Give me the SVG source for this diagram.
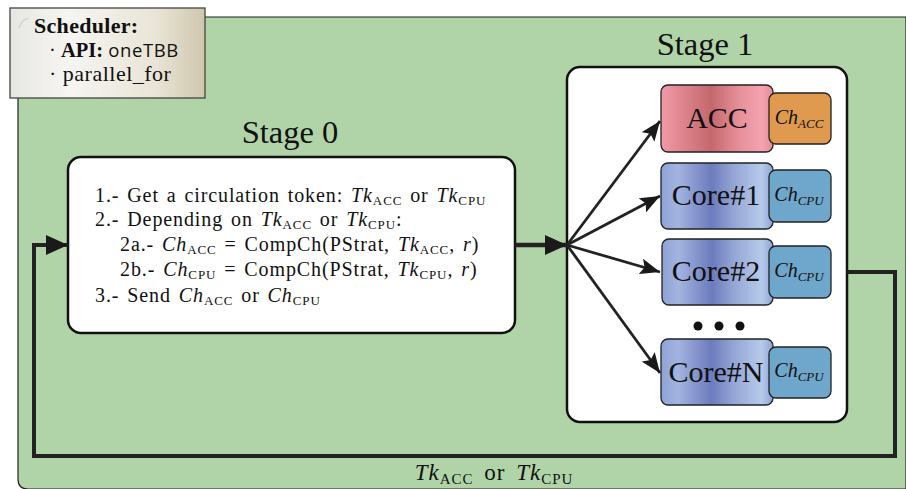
<svg xmlns="http://www.w3.org/2000/svg" width="906" height="489" viewBox="0 0 906 489">
<style>
.serif{font-family:"Liberation Serif","DejaVu Serif",serif;fill:#111}
.it{font-style:italic}
.sub{font-size:13px}
.sst{font-size:20px;letter-spacing:0.9px;word-spacing:2px}
.box{fill:#fff;stroke:#111;stroke-width:2.5}
.node{stroke:#222;stroke-width:1.3}
.conn{fill:none;stroke:#222}
.lbl{font-size:30px}
.ch{font-size:20px;font-style:italic}
.chs{font-size:13px}
</style>
<defs>
<linearGradient id="gAcc" x1="0" x2="1" y1="0" y2="0">
<stop offset="0" stop-color="#f19aa7"/><stop offset="0.45" stop-color="#c4686d"/><stop offset="0.7" stop-color="#e7909a"/><stop offset="0.9" stop-color="#f4a3b0"/><stop offset="1" stop-color="#e58c98"/>
</linearGradient>
<linearGradient id="gCore" x1="0" x2="1" y1="0" y2="0">
<stop offset="0" stop-color="#8ea2d6"/><stop offset="0.15" stop-color="#a3b4e0"/><stop offset="0.45" stop-color="#6c7bbd"/><stop offset="0.65" stop-color="#95a6d6"/><stop offset="0.9" stop-color="#b6caea"/><stop offset="1" stop-color="#8ea2d6"/>
</linearGradient>
<linearGradient id="gSch" x1="0" x2="1" y1="0" y2="0">
<stop offset="0" stop-color="#e6e6e2"/><stop offset="0.3" stop-color="#f6f5f2"/><stop offset="0.75" stop-color="#e9e4d6"/><stop offset="1" stop-color="#cfc6ad"/>
</linearGradient>
<marker id="aBig" markerUnits="userSpaceOnUse" markerWidth="24" markerHeight="20" refX="22" refY="10" orient="auto">
<path d="M0,0 L22,10 L0,20 Z" fill="#1a1a1a"/>
</marker>
<marker id="aSm" markerUnits="userSpaceOnUse" markerWidth="22" markerHeight="16" refX="20" refY="8" orient="auto">
<path d="M0,0 L20,8 L0,16 L4,8 Z" fill="#1a1a1a"/>
</marker>
</defs>

<g id="background">
<path d="M18,17 H906 V489 H28 Q18,489 18,479 Z" fill="#b0d3a8" stroke="#222" stroke-width="1.2"/>
</g>

<g id="scheduler">
<rect x="10" y="8" width="195" height="90" fill="url(#gSch)" stroke="#444" stroke-width="1.3"/>
<path d="M19,28 Q21,20 29,18" fill="none" stroke="#ccc" stroke-width="1.2"/>
<text class="serif" x="34" y="33" font-size="22" font-weight="bold" letter-spacing="0.3">Scheduler:</text>
<text class="serif" x="49" y="57" font-size="20.5">· <tspan font-weight="bold">API:</tspan> <tspan font-family="'Open Sans','DejaVu Sans',sans-serif" font-size="18.5" letter-spacing="0.6">oneTBB</tspan></text>
<text class="serif" x="49" y="81" font-size="22" letter-spacing="0.5">· parallel_for</text>
</g>

<g id="stage0">
<text class="serif" x="290" y="143" font-size="32.5" text-anchor="middle">Stage 0</text>
<rect class="box" x="68" y="157" width="447" height="176" rx="13"/>
<text class="serif sst" x="95" y="202">1.- Get a circulation token: <tspan class="it">Tk</tspan><tspan class="sub" dy="3">ACC</tspan><tspan dy="-3"> or </tspan><tspan class="it">Tk</tspan><tspan class="sub" dy="3">CPU</tspan></text>
<text class="serif sst" x="95" y="226">2.- Depending on <tspan class="it">Tk</tspan><tspan class="sub" dy="3">ACC</tspan><tspan dy="-3"> or </tspan><tspan class="it">Tk</tspan><tspan class="sub" dy="3">CPU</tspan><tspan dy="-3">:</tspan></text>
<text class="serif sst" x="120" y="251">2a.- <tspan class="it">Ch</tspan><tspan class="sub" dy="3">ACC</tspan><tspan dy="-3"> = CompCh(PStrat, </tspan><tspan class="it">Tk</tspan><tspan class="sub" dy="3">ACC</tspan><tspan dy="-3">, </tspan><tspan class="it">r</tspan>)</text>
<text class="serif sst" x="120" y="276">2b.- <tspan class="it">Ch</tspan><tspan class="sub" dy="3">CPU</tspan><tspan dy="-3"> = CompCh(PStrat, </tspan><tspan class="it">Tk</tspan><tspan class="sub" dy="3">CPU</tspan><tspan dy="-3">, </tspan><tspan class="it">r</tspan>)</text>
<text class="serif sst" x="95" y="302">3.- Send <tspan class="it">Ch</tspan><tspan class="sub" dy="3">ACC</tspan><tspan dy="-3"> or </tspan><tspan class="it">Ch</tspan><tspan class="sub" dy="3">CPU</tspan></text>
</g>

<g id="stage1">
<text class="serif" x="705" y="55" font-size="32.5" text-anchor="middle">Stage 1</text>
<rect class="box" x="567" y="67" width="280" height="355" rx="13"/>
</g>

<g id="acc">
<rect class="node" x="661" y="85" width="112" height="67" rx="7" fill="url(#gAcc)"/>
<text class="serif lbl" x="717" y="128" text-anchor="middle">ACC</text>
<rect class="node" x="769" y="93" width="62" height="51" rx="7" fill="#e09a50"/>
<text class="serif ch" x="799" y="124" text-anchor="middle">Ch<tspan class="chs" dy="4">ACC</tspan></text>
</g>

<g id="core1">
<rect class="node" x="661" y="163" width="112" height="66" rx="7" fill="url(#gCore)"/>
<text class="serif lbl" x="716" y="205" text-anchor="middle">Core#1</text>
<rect class="node" x="769" y="170" width="62" height="52" rx="7" fill="#6fa6cc"/>
<text class="serif ch" x="799" y="201" text-anchor="middle">Ch<tspan class="chs" dy="4">CPU</tspan></text>
</g>

<g id="core2">
<rect class="node" x="662" y="239" width="111" height="66" rx="7" fill="url(#gCore)"/>
<text class="serif lbl" x="716" y="281" text-anchor="middle">Core#2</text>
<rect class="node" x="769" y="246" width="62" height="52" rx="7" fill="#6fa6cc"/>
<text class="serif ch" x="799" y="277" text-anchor="middle">Ch<tspan class="chs" dy="4">CPU</tspan></text>
</g>

<g id="dots">
<circle cx="698" cy="326" r="4.5" fill="#111"/>
<circle cx="719" cy="326" r="4.5" fill="#111"/>
<circle cx="740" cy="326" r="4.5" fill="#111"/>
</g>

<g id="coreN">
<rect class="node" x="661" y="339" width="112" height="66" rx="7" fill="url(#gCore)"/>
<text class="serif lbl" x="716" y="382" text-anchor="middle">Core#N</text>
<rect class="node" x="769" y="347" width="62" height="51" rx="7" fill="#6fa6cc"/>
<text class="serif ch" x="799" y="377" text-anchor="middle">Ch<tspan class="chs" dy="4">CPU</tspan></text>
</g>

<g id="connectors">
<line class="conn" x1="515" y1="245" x2="567" y2="245" stroke-width="4.5" marker-end="url(#aBig)"/>
<line class="conn" x1="567" y1="245" x2="660" y2="121" stroke-width="2.8" marker-end="url(#aSm)"/>
<line class="conn" x1="567" y1="245" x2="660" y2="196" stroke-width="2.8" marker-end="url(#aSm)"/>
<line class="conn" x1="567" y1="245" x2="660" y2="272" stroke-width="2.8" marker-end="url(#aSm)"/>
<line class="conn" x1="567" y1="245" x2="660" y2="373" stroke-width="2.8" marker-end="url(#aSm)"/>
<path class="conn" d="M847,272 H895 V456 H34 V245 H68" stroke-width="4" marker-end="url(#aBig)"/>
<text class="serif" x="494" y="480" font-size="23" text-anchor="middle" letter-spacing="1" word-spacing="4"><tspan class="it">Tk</tspan><tspan font-size="15" dy="4">ACC</tspan><tspan dy="-4"> or </tspan><tspan class="it">Tk</tspan><tspan font-size="15" dy="4">CPU</tspan></text>
</g>
</svg>
